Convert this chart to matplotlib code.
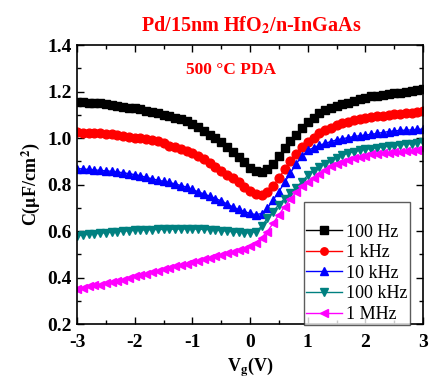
import numpy as np
from matplotlib import pyplot as plt
from matplotlib.ticker import MultipleLocator

# gate voltage sweep, -3 V to 3 V in 0.1 V steps
vg = np.round(np.arange(-3.0, 3.05, 0.1), 1)

c_100hz = [1.157, 1.155, 1.153, 1.151, 1.149, 1.146, 1.143, 1.139, 1.135, 1.131,
           1.128, 1.124, 1.118, 1.111, 1.106, 1.101, 1.094, 1.088, 1.081, 1.074,
           1.062, 1.046, 1.030, 1.015, 1.000, 0.985, 0.962, 0.940, 0.918, 0.895,
           0.872, 0.858, 0.852, 0.866, 0.888, 0.922, 0.958, 0.988, 1.015, 1.045,
           1.070, 1.088, 1.106, 1.120, 1.130, 1.139, 1.146, 1.153, 1.160, 1.166,
           1.172, 1.179, 1.183, 1.187, 1.190, 1.193, 1.196, 1.199, 1.202, 1.206,
           1.210]
c_1khz = [1.025, 1.024, 1.023, 1.022, 1.021, 1.019, 1.016, 1.012, 1.008, 1.005,
          1.002, 0.999, 0.996, 0.992, 0.986, 0.978, 0.968, 0.961, 0.953, 0.945,
          0.934, 0.922, 0.909, 0.893, 0.876, 0.858, 0.843, 0.828, 0.810, 0.790,
          0.772, 0.760, 0.756, 0.770, 0.795, 0.828, 0.866, 0.902, 0.932, 0.960,
          0.983, 1.000, 1.020, 1.034, 1.045, 1.055, 1.063, 1.070, 1.078, 1.083,
          1.087, 1.092, 1.095, 1.097, 1.100, 1.102, 1.104, 1.106, 1.108, 1.111,
          1.115]
c_10khz = [0.869, 0.867, 0.865, 0.863, 0.861, 0.859, 0.857, 0.854, 0.851, 0.847,
           0.843, 0.838, 0.831, 0.825, 0.819, 0.814, 0.809, 0.803, 0.796, 0.789,
           0.779, 0.769, 0.760, 0.750, 0.740, 0.730, 0.717, 0.704, 0.693, 0.684,
           0.676, 0.671, 0.675, 0.698, 0.734, 0.770, 0.810, 0.850, 0.890, 0.922,
           0.947, 0.958, 0.969, 0.977, 0.985, 0.992, 0.997, 1.002, 1.007, 1.010,
           1.013, 1.016, 1.020, 1.024, 1.028, 1.031, 1.033, 1.034, 1.035, 1.037,
           1.039]
c_100khz = [0.580, 0.583, 0.586, 0.588, 0.591, 0.593, 0.595, 0.598, 0.600, 0.601,
            0.603, 0.604, 0.605, 0.606, 0.607, 0.607, 0.608, 0.608, 0.609, 0.609,
            0.609, 0.608, 0.607, 0.606, 0.604, 0.602, 0.600, 0.597, 0.595, 0.593,
            0.592, 0.598, 0.620, 0.655, 0.684, 0.714, 0.740, 0.764, 0.786, 0.812,
            0.840, 0.858, 0.876, 0.890, 0.903, 0.915, 0.926, 0.935, 0.942, 0.947,
            0.951, 0.955, 0.959, 0.962, 0.965, 0.968, 0.971, 0.973, 0.976, 0.979,
            0.982]
c_1mhz = [0.352, 0.357, 0.362, 0.366, 0.370, 0.375, 0.380, 0.385, 0.391, 0.398,
          0.405, 0.411, 0.417, 0.424, 0.430, 0.436, 0.443, 0.450, 0.455, 0.459,
          0.466, 0.473, 0.480, 0.486, 0.492, 0.498, 0.504, 0.511, 0.518, 0.524,
          0.535, 0.548, 0.572, 0.598, 0.634, 0.670, 0.705, 0.738, 0.768, 0.792,
          0.812, 0.830, 0.847, 0.862, 0.878, 0.889, 0.898, 0.906, 0.914, 0.920,
          0.925, 0.930, 0.933, 0.935, 0.937, 0.939, 0.941, 0.943, 0.946, 0.949,
          0.952]

labels = ["100 Hz", "1 kHz", "10 kHz", "100 kHz", "1 MHz"]
series = [c_100hz, c_1khz, c_10khz, c_100khz, c_1mhz]
colors = ["black", "red", "blue", "#008080", "magenta"]
markers = ["s", "o", "^", "v", "<"]

plt.rcParams['font.family'] = ['Liberation Serif', 'DejaVu Serif']
plt.rcParams['mathtext.fontset'] = 'stix'

fig = plt.figure(figsize=(4.30, 3.79), dpi=100)
ax = fig.add_axes([0.179, 0.145, 0.805, 0.736])

for y, lab, col, m in zip(series, labels, colors, markers):
    ax.plot(vg, y, color=col, marker=m, markersize=6.3, linewidth=1, label=lab)

ax.set_xlim(-3, 3)
ax.set_ylim(0.2, 1.4)
ax.xaxis.set_major_locator(MultipleLocator(1))
ax.xaxis.set_minor_locator(MultipleLocator(0.5))
ax.yaxis.set_major_locator(MultipleLocator(0.2))
ax.yaxis.set_minor_locator(MultipleLocator(0.1))
ax.tick_params(which='both', direction='in', top=True, right=True, width=1)
ax.tick_params(which='major', length=5, labelsize=14)
ax.tick_params(axis='x', which='major', pad=7)
ax.tick_params(which='minor', length=3)
for lbl in ax.get_xticklabels() + ax.get_yticklabels():
    lbl.set_fontweight('bold')
ax.xaxis.set_major_formatter(plt.FuncFormatter(lambda v, p: f"{v:.0f}"))
ax.yaxis.set_major_formatter(plt.FuncFormatter(lambda v, p: f"{v:.1f}"))
for sp in ax.spines.values():
    sp.set_linewidth(1.2)

ax.set_xlabel(r"V$_\mathbf{g}$(V)", fontsize=13, fontweight='bold', labelpad=3)
ax.set_ylabel(r"C($\mathbf{\mu}$F/cm$^\mathbf{2}$)", fontsize=13, fontweight='bold')

fig.text(0.585, 0.932, r"Pd/15nm HfO$_\mathbf{2}$/n-InGaAs", color='red',
         fontsize=14.5, fontweight='bold', ha='center', va='center')
ax.text(0.445, 0.91, "500 °C PDA", color='red', fontsize=12.5, fontweight='bold',
        ha='center', va='center', transform=ax.transAxes)

# blank title gives the extra room above the first entry
leg = ax.legend(loc='lower right', bbox_to_anchor=(0.962, -0.004), fontsize=13,
                frameon=True, fancybox=False, edgecolor='#333333',
                handlelength=2.0, labelspacing=0.2, borderpad=0.12,
                handletextpad=0.25, borderaxespad=0, markerscale=0.85,
                title=" ", title_fontsize=12)
leg.get_frame().set_linewidth(1.0)

fig.savefig("out.png", dpi=100)
